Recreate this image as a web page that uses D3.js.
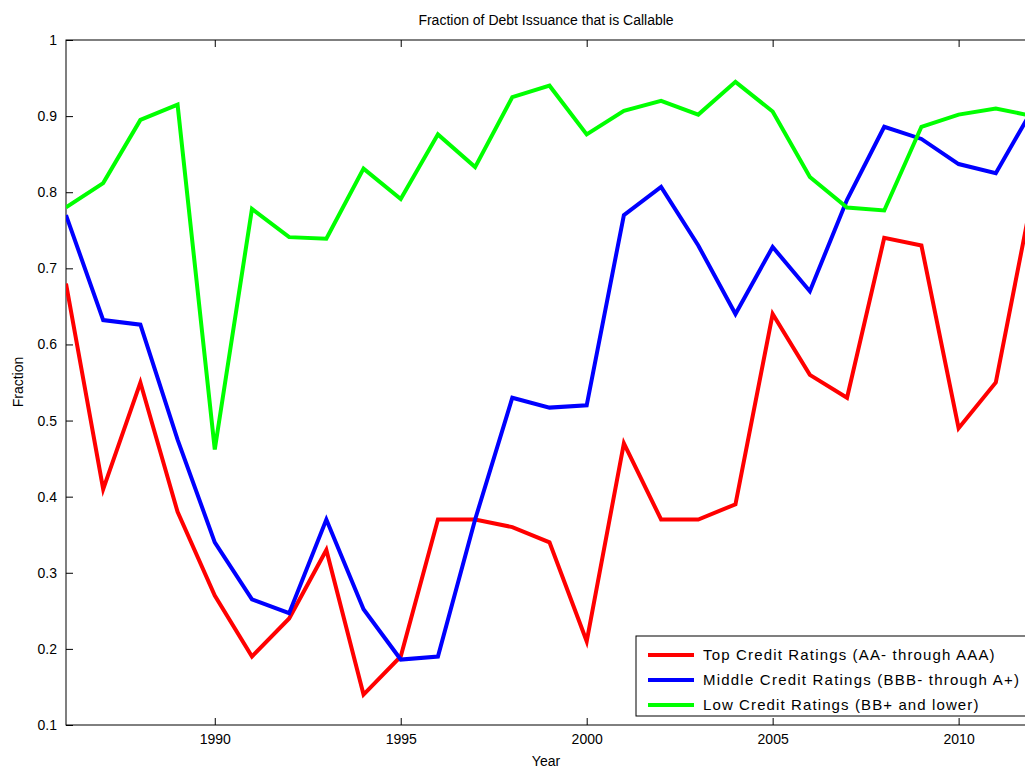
<!DOCTYPE html>
<html><head><meta charset="utf-8">
<script src="https://cdn.jsdelivr.net/npm/d3@7"></script>
<style>body{margin:0;background:#fff;overflow:hidden}text{font-family:Arial,"Liberation Sans",sans-serif}</style>
</head><body><div id="chart"></div>
<script>
const years = d3.range(1986, 2013);
const topRatings = [0.68,0.41,0.55,0.38,0.27,0.19,0.24,0.33,0.14,0.19,0.37,0.37,0.36,0.34,0.21,0.47,0.37,0.37,0.39,0.64,0.56,0.53,0.74,0.73,0.49,0.55,0.80];
const midRatings = [0.77,0.632,0.626,0.475,0.34,0.265,0.247,0.37,0.252,0.186,0.19,0.37,0.53,0.517,0.52,0.77,0.807,0.73,0.64,0.728,0.67,0.79,0.886,0.87,0.837,0.825,0.91];
const lowRatings = [0.78,0.812,0.895,0.915,0.462,0.778,0.741,0.739,0.831,0.791,0.876,0.833,0.925,0.94,0.876,0.907,0.92,0.902,0.945,0.906,0.82,0.78,0.776,0.886,0.902,0.91,0.90];
const series = [
  {name:"Top Credit Ratings (AA- through AAA)", values:topRatings, color:"#ff0000"},
  {name:"Middle Credit Ratings (BBB- through A+)", values:midRatings, color:"#0000ff"},
  {name:"Low Credit Ratings (BB+ and lower)", values:lowRatings, color:"#00ff00"}
];
const xTicks = [1990,1995,2000,2005,2010];
const yTicks = d3.range(1,11).map(d=>d/10);

const W = 1025, H = 769;
const m = {left:66, top:40};
const pw = 1033-66, ph = 725-40;
const svg = d3.select("#chart").append("svg").attr("width",W).attr("height",H);
const g = svg.append("g").attr("transform",`translate(${m.left},${m.top})`);
const x = d3.scaleLinear().domain([1986,2012]).range([0,pw]);
const y = d3.scaleLinear().domain([0.1,1]).range([ph,0]);

g.append("rect").attr("width",pw).attr("height",ph).attr("fill","none").attr("stroke","#000");
const style = s => s.select(".domain").remove();
g.append("g").attr("transform",`translate(0,${ph})`).call(d3.axisBottom(x).tickValues(xTicks).tickFormat(d3.format("d")).tickSizeInner(-7).tickPadding(9)).call(style);
g.append("g").call(d3.axisTop(x).tickValues(xTicks).tickFormat("").tickSizeInner(-7)).call(style);
g.append("g").call(d3.axisLeft(y).tickValues(yTicks).tickFormat(d=>d===1?"1":d3.format(".1f")(d)).tickSizeInner(-7).tickPadding(9)).call(style);
g.append("g").attr("transform",`translate(${pw},0)`).call(d3.axisRight(y).tickValues(yTicks).tickFormat("").tickSizeInner(-7)).call(style);
g.selectAll(".tick text").attr("font-size",14).attr("fill","#000");

const line = d3.line().x((d,i)=>x(years[i])).y(d=>y(d));
g.append("clipPath").attr("id","c").append("rect").attr("width",pw).attr("height",ph);
series.forEach(s=>{
  g.append("path").attr("clip-path","url(#c)").datum(s.values).attr("d",line)
   .attr("fill","none").attr("stroke",s.color).attr("stroke-width",4).attr("stroke-linejoin","miter");
});

svg.append("text").attr("x",546).attr("y",25).attr("text-anchor","middle").attr("font-size",14).text("Fraction of Debt Issuance that is Callable");
svg.append("text").attr("x",546).attr("y",766).attr("text-anchor","middle").attr("font-size",14).text("Year");
svg.append("text").attr("transform","translate(23,382) rotate(-90)").attr("text-anchor","middle").attr("font-size",14).text("Fraction");

const lg = svg.append("g").attr("transform","translate(636,636)");
lg.append("rect").attr("width",400).attr("height",80).attr("fill","#fff").attr("stroke","#000");
series.forEach((s,i)=>{
  const yy = 19 + i*25;
  lg.append("line").attr("x1",12).attr("x2",58).attr("y1",yy).attr("y2",yy).attr("stroke",s.color).attr("stroke-width",4);
  lg.append("text").attr("x",67).attr("y",yy+5).attr("font-size",15).attr("textLength", s.name.length*8.1).text(s.name);
});
</script></body></html>
